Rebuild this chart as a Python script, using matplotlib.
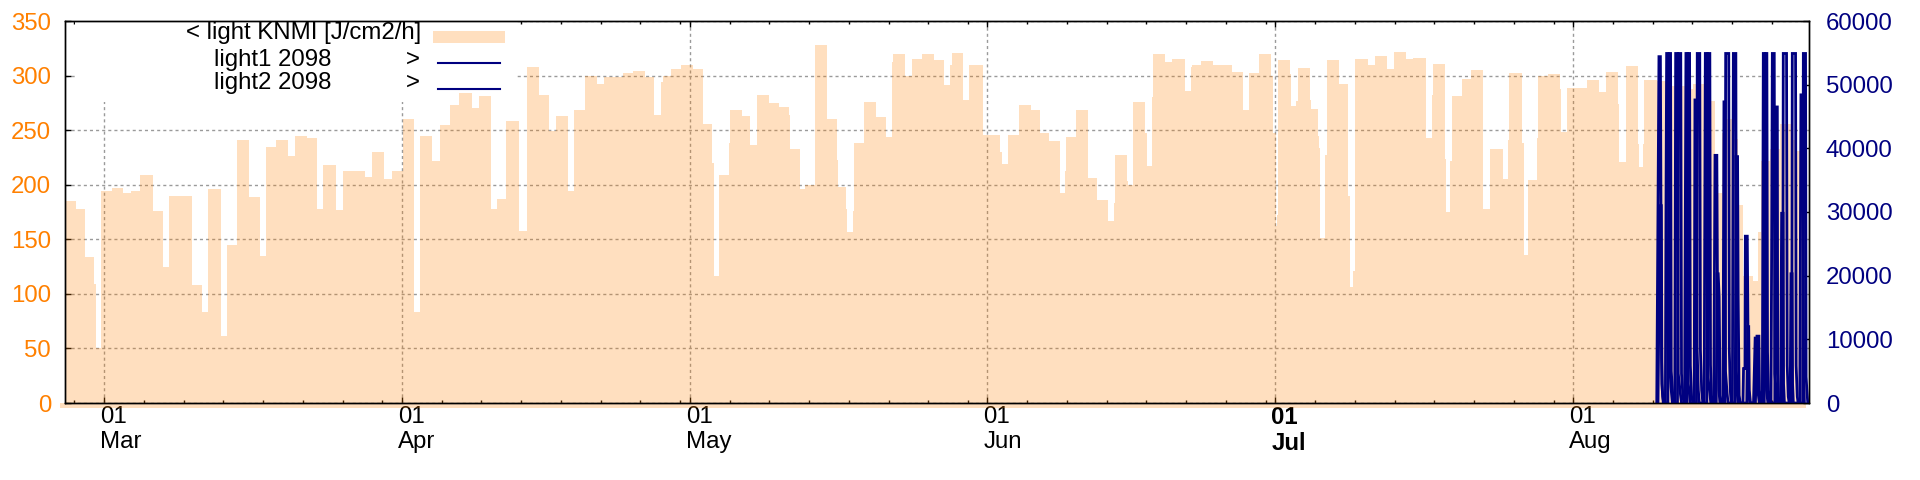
import datetime as dt

import matplotlib
matplotlib.use("Agg")
import matplotlib.pyplot as plt
import matplotlib.dates as mdates
import matplotlib.transforms as mtrans
from matplotlib.lines import Line2D
from matplotlib.patches import Rectangle
import numpy as np

plt.rcParams["font.family"] = ["Liberation Sans", "DejaVu Sans"]

# time is in days since 25 Feb; each entry starts a step
knmi = [
    (-0.6, 185), (1.06, 178), (2.03, 134), (2.97, 109), (3.14, 50), (3.7, 194), (4.84, 197),
    (5.99, 192), (6.75, 194), (7.72, 209), (9.04, 176), (10.15, 125), (10.78, 190), (13.1, 108),
    (14.15, 83), (14.77, 196), (16.13, 61), (16.75, 145), (17.79, 241), (19.08, 189), (20.22, 135),
    (20.81, 235), (21.89, 241), (23.18, 226), (23.87, 245), (25.15, 243), (26.2, 178), (26.82, 218),
    (28.14, 177), (28.9, 213), (31.16, 207), (31.92, 230), (33.14, 205), (34.01, 213), (35.08, 260),
    (36.3, 83), (36.89, 245), (38.1, 222), (38.97, 255), (40.01, 273), (41.0, 284), (42.27, 270),
    (43.04, 281), (44.29, 178), (44.91, 187), (45.85, 258), (47.24, 158), (48.0, 308), (49.29, 282),
    (50.33, 249), (51.02, 263), (52.31, 194), (52.93, 268), (54.11, 300), (55.29, 292), (56.06, 299),
    (58.07, 302), (59.11, 304), (60.33, 299), (61.3, 264), (62.0, 294), (62.17, 300), (63.04, 306),
    (64.08, 310), (65.29, 306), (66.33, 256), (67.34, 220), (67.51, 116), (68.04, 209), (69.08, 238),
    (69.18, 268), (70.43, 263), (71.26, 236), (71.99, 282), (73.21, 275), (74.29, 271), (75.33, 264),
    (75.43, 233), (76.47, 196), (76.99, 200), (78.04, 328), (79.25, 260), (80.29, 223), (80.39, 198),
    (81.23, 178), (81.37, 157), (81.96, 176), (82.1, 238), (83.14, 276), (84.39, 262), (85.43, 244),
    (86.09, 312), (86.2, 320), (87.41, 300), (88.17, 315), (89.22, 320), (90.43, 314), (91.47, 291),
    (92.1, 310), (92.27, 321), (93.42, 278), (94.1, 310), (95.5, 246), (97.31, 230), (97.48, 219),
    (98.17, 246), (99.29, 273), (100.5, 268), (101.47, 247), (102.41, 240), (103.56, 192),
    (104.08, 213), (104.18, 244), (105.22, 268), (106.44, 206), (107.38, 186), (108.52, 167),
    (109.18, 183), (109.32, 227), (110.5, 203), (110.64, 200), (111.13, 276), (112.41, 247),
    (112.62, 217), (113.14, 280), (113.28, 320), (114.49, 312), (115.19, 315), (116.58, 286),
    (117.2, 308), (117.3, 310), (118.24, 313), (119.53, 310), (121.47, 303), (122.58, 268),
    (123.21, 302), (124.29, 320), (125.54, 300), (125.7, 247), (126.05, 162), (126.16, 172),
    (126.26, 314), (127.51, 301), (127.61, 272), (128.14, 277), (128.38, 307), (129.6, 278),
    (129.7, 269), (130.43, 245), (130.57, 234), (130.64, 151), (131.16, 227), (131.33, 314),
    (132.62, 292), (133.59, 190), (133.77, 106), (134.1, 121), (134.32, 315), (135.67, 310),
    (136.37, 318), (137.62, 306), (138.35, 322), (139.6, 315), (140.36, 316), (141.68, 243),
    (142.31, 282), (142.41, 311), (143.66, 224), (143.76, 175), (144.18, 222), (144.39, 281),
    (145.43, 297), (146.37, 305), (147.62, 178), (148.35, 233), (149.74, 205), (150.19, 241),
    (150.33, 302), (151.65, 238), (151.85, 136), (152.34, 204), (153.24, 243), (153.34, 300),
    (154.42, 301), (155.64, 288), (155.74, 248), (156.33, 289), (158.42, 296), (159.7, 285),
    (160.43, 303), (161.72, 274), (161.82, 221), (162.51, 309), (163.73, 237), (163.83, 216),
    (164.32, 237), (164.42, 296), (165.71, 295), (166.68, 255), (167.27, 290), (168.66, 288),
    (169.53, 292), (170.81, 279), (171.33, 277), (171.79, 192), (172.48, 247), (172.65, 260),
    (173.69, 242), (174.14, 181), (174.67, 116), (175.78, 112), (176.3, 157), (176.58, 222),
    (177.51, 233), (178.56, 256), (179.7, 241), (180.22, 231), (181.26, 231),
]

light1 = [
    (165.72, 0), (165.95, 54400), (166.10, 54400), (166.22, 7000), (166.30, 2000), (166.40, 0),
    (166.62, 0), (166.68, 29800), (166.75, 54900), (166.92, 54900), (167.06, 6200), (167.20, 2500), (167.35, 0),
    (167.60, 0), (167.69, 54900), (167.90, 54900), (167.96, 4600), (168.20, 1200), (168.30, 0),
    (168.62, 0), (168.76, 54900), (168.94, 54900), (169.00, 3000), (169.12, 1500), (169.22, 0),
    (169.62, 0), (169.70, 47600), (169.88, 47600), (169.93, 8300), (170.05, 2000), (170.15, 0),
    (170.66, 0), (170.78, 54900), (171.00, 54900), (171.06, 4000), (171.25, 1500), (171.35, 0),
    (171.66, 0), (171.79, 38900), (171.98, 38900), (172.05, 16700), (172.20, 2000), (172.30, 0),
    (172.62, 0), (172.72, 47300), (172.83, 47300), (172.88, 5000), (173.05, 1500), (173.15, 0),
    (173.60, 0), (173.70, 54900), (173.96, 54900), (174.02, 5000), (174.12, 1200), (174.22, 0),
    (174.70, 0), (174.76, 5400), (174.91, 5400), (174.95, 26200), (175.15, 26200), (175.22, 12000),
    (175.30, 2000), (175.40, 0),
    (175.80, 0), (175.97, 10200), (176.14, 10200), (176.25, 2000), (176.40, 0),
    (176.72, 0), (176.82, 54900), (176.99, 54900), (177.06, 8000), (177.15, 2000), (177.30, 0),
    (177.62, 0), (177.69, 24300), (177.76, 54900), (177.96, 54900), (178.02, 4600), (178.20, 1200), (178.30, 0),
    (178.62, 0), (178.73, 29800), (178.88, 29800), (178.93, 3000), (179.02, 0),
    (179.62, 0), (179.70, 20300), (179.82, 20300), (179.87, 3000), (179.95, 0),
    (180.62, 0), (180.74, 48400), (180.96, 48400), (181.02, 5000), (181.10, 0),
]

light2 = [
    (165.85, 0), (166.06, 31000), (166.20, 31000), (166.26, 3000), (166.35, 1000), (166.45, 0),
    (166.88, 0), (167.00, 54900), (167.16, 54900), (167.23, 5000), (167.40, 1000), (167.52, 0),
    (167.88, 0), (167.97, 54900), (168.22, 54900), (168.30, 4600), (168.45, 1000), (168.55, 0),
    (168.88, 0), (168.95, 54900), (169.14, 54900), (169.22, 5900), (169.35, 1000), (169.50, 0),
    (169.86, 0), (169.94, 54900), (170.20, 54900), (170.27, 8300), (170.40, 2000), (170.52, 0),
    (170.94, 0), (171.02, 54900), (171.25, 54900), (171.32, 6000), (171.42, 1200), (171.52, 0),
    (171.92, 0), (172.00, 20300), (172.12, 20300), (172.22, 16700), (172.32, 1200), (172.45, 0),
    (172.82, 0), (172.90, 54900), (173.22, 54900), (173.28, 8300), (173.38, 2000), (173.48, 0),
    (173.90, 0), (173.97, 38700), (174.14, 38700), (174.20, 16700), (174.30, 1200), (174.42, 0),
    (175.10, 0), (175.19, 12000), (175.30, 12000), (175.36, 2000), (175.48, 0),
    (176.00, 0), (176.16, 10500), (176.36, 10500), (176.42, 2000), (176.55, 0),
    (176.92, 0), (177.03, 54900), (177.19, 54900), (177.26, 8000), (177.36, 2000), (177.48, 0),
    (178.02, 0), (178.10, 46500), (178.28, 46500), (178.32, 4600), (178.40, 1000), (178.48, 0),
    (178.84, 0), (178.90, 54900), (179.24, 54900), (179.31, 5900), (179.42, 1000), (179.52, 0),
    (179.78, 0), (179.84, 54900), (180.18, 54900), (180.24, 5900), (180.36, 1000), (180.45, 0),
    (180.92, 0), (180.99, 54900), (181.22, 54900), (181.28, 4100), (181.36, 2000), (181.45, 0),
]

start = dt.datetime(2021, 2, 25)
x_range = (-0.09, 181.58)
month_starts = [dt.datetime(2021, m, 1) for m in range(3, 9)]
left_ticks = list(range(0, 351, 50))
right_ticks = list(range(0, 60001, 10000))

ORANGE = "#ff8000"
NAVY = "#000080"
GRID = "#9a9a9a"
FS = 17.3


def main():
    base = mdates.date2num(start)
    kt, kv = np.array(knmi, dtype=float).T
    t1, v1 = np.array(light1, dtype=float).T
    t2, v2 = np.array(light2, dtype=float).T

    fig = plt.figure(figsize=(19.2, 4.8), dpi=100)
    ax = fig.add_axes([65 / 1920, 77 / 480, 1744 / 1920, 382 / 480])
    ax2 = ax.twinx()

    # grid under everything, legend box masks the grid only
    ax.set_axisbelow(True)
    ax.grid(True, which="major", color=GRID, linestyle=(0, (2.2, 2.2)), linewidth=1.0)
    ax.add_patch(Rectangle((0.0057, 0.7887), 0.2523, 0.2113, transform=ax.transAxes,
                           facecolor="white", edgecolor="none", zorder=0.8))

    ax.fill_between(base + kt, 0, kv, step="post", facecolor=ORANGE, alpha=0.25,
                    linewidth=0, zorder=1)
    ax.fill_between([base + kt[0], base + kt[-1]], -5, 0, facecolor=ORANGE, alpha=0.25,
                    linewidth=0, clip_on=False, zorder=1)

    ax2.plot(base + t1, v1, color=NAVY, linewidth=2.0, solid_joinstyle="miter")
    ax2.plot(base + t2, v2, color=NAVY, linewidth=2.0, solid_joinstyle="miter")

    # x ticks: months, minor every ~4 days restarting at each month
    ax.set_xticks([mdates.date2num(m) for m in month_starts])
    ax.set_xticklabels([m.strftime("%d\n%b") for m in month_starts], fontsize=FS,
                       ha="left", multialignment="left")
    for lbl in ax.get_xticklabels():
        if "Jul" in lbl.get_text():
            lbl.set_fontweight("bold")
    minors = []
    edges = [dt.datetime(2021, m, 1) for m in range(2, 10)]
    for a, b in zip(edges[:-1], edges[1:]):
        k = 1
        while a + dt.timedelta(days=4.14 * k) < b - dt.timedelta(days=0.5):
            minors.append(mdates.date2num(a + dt.timedelta(days=4.14 * k)))
            k += 1
    ax.set_xticks(minors, minor=True)

    ax.tick_params(axis="x", which="both", direction="in", top=True, bottom=True, pad=2,
                   width=1.0)
    ax.tick_params(axis="x", which="major", length=4.5)
    ax.tick_params(axis="x", which="minor", length=2.5)
    shift = mtrans.ScaledTranslation(-4 / 100, 0, fig.dpi_scale_trans)
    for lbl in ax.get_xticklabels():
        lbl.set_transform(lbl.get_transform() + shift)

    ax.set_yticks(left_ticks)
    ax.set_yticklabels([str(v) for v in left_ticks], fontsize=FS)
    ax.tick_params(axis="y", direction="in", length=4, width=1.0, labelcolor=ORANGE, pad=10,
                   left=True, right=False)
    ax2.set_yticks(right_ticks)
    ax2.set_yticklabels([str(v) for v in right_ticks], fontsize=FS)
    ax2.tick_params(axis="y", direction="in", length=4, width=1.0, labelcolor=NAVY, pad=12)

    # limits last: set_xticks and the twin plot both widen the view
    ax.set_xlim(base + x_range[0], base + x_range[1])
    ax.set_ylim(0, 350)
    ax2.set_ylim(0, 60000)

    for a in (ax, ax2):
        for s in a.spines.values():
            s.set_linewidth(1.0)
            s.set_color("black")
            s.set_zorder(5)

    # key, gnuplot style (right-justified titles, samples on the right)
    tr = ax.transAxes
    ax.text(0.2041, 0.9678, "< light KNMI [J/cm2/h]", ha="right", va="center",
            fontsize=FS, transform=tr, zorder=6)
    ax.add_patch(Rectangle((0.2108, 0.9432), 0.0415, 0.0306, transform=tr,
                           facecolor=ORANGE, alpha=0.25, edgecolor="none", zorder=6))
    for y_txt, y_line, name in [(0.8979, 0.8908, "light1 2098"),
                                (0.8369, 0.8228, "light2 2098")]:
        ax.text(0.1529, y_txt, name, ha="right", va="center", fontsize=FS, transform=tr, zorder=6)
        ax.text(0.2036, y_txt, ">", ha="right", va="center", fontsize=FS, transform=tr, zorder=6)
        ax.add_line(Line2D([0.2139, 0.2494], [y_line, y_line], color=NAVY, linewidth=1.5,
                           transform=tr, zorder=6))

    fig.savefig("out.png", dpi=100, facecolor="white")
    plt.close(fig)


if __name__ == "__main__":
    main()
